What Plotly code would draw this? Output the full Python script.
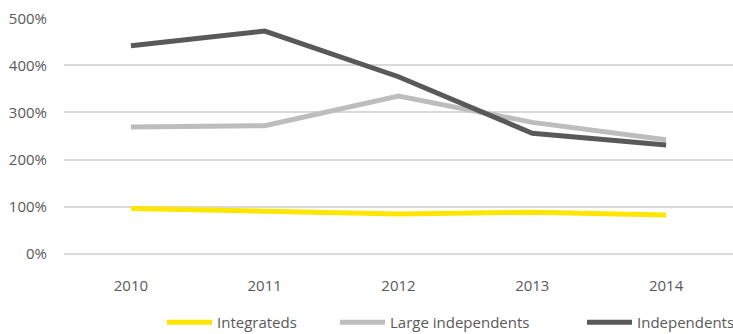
import plotly.graph_objects as go

years = ["2010", "2011", "2012", "2013", "2014"]
integrateds = [96, 91, 84, 88, 82]
large_independents = [269, 272, 335, 279, 242]
independents = [442, 473, 376, 256, 231]

y_ticks = [0, 100, 200, 300, 400, 500]
y_tick_labels = ["0%", "100%", "200%", "300%", "400%", "500%"]

FONT = "Open Sans, Arial, sans-serif"
TEXT = "#595959"

series = [
    ("Integrateds", integrateds, "#FFE600", "legend"),
    ("Large independents", large_independents, "#BDBDBD", "legend2"),
    ("Independents", independents, "#595959", "legend3"),
]

fig = go.Figure()
for name, vals, color, leg in series:
    fig.add_trace(go.Scatter(
        x=years, y=vals, name=name, mode="lines",
        line=dict(color=color, width=5),
        legend=leg,
    ))

legend_common = dict(
    orientation="h", yanchor="middle", y=-0.29, xanchor="left",
    font=dict(family=FONT, size=15, color=TEXT),
    bgcolor="rgba(0,0,0,0)", itemwidth=45,
)

fig.update_layout(
    width=733, height=334,
    margin=dict(l=64, r=0, t=18, b=80, autoexpand=False),
    paper_bgcolor="white", plot_bgcolor="white",
    showlegend=True,
    legend=dict(x=(162 - 64) / 669, **legend_common),
    legend2=dict(x=(335 - 64) / 669, **legend_common),
    legend3=dict(x=(582 - 64) / 669, **legend_common),
    xaxis=dict(
        type="category", range=[-0.5, 4.5],
        showgrid=False, showline=False, zeroline=False,
        ticks="outside", ticklen=18, tickcolor="rgba(0,0,0,0)",
        tickfont=dict(family=FONT, size=15, color=TEXT),
    ),
    yaxis=dict(
        range=[-0.8, 500.8], tickvals=y_ticks, ticktext=y_tick_labels,
        showgrid=True, gridcolor="#D9D9D9", gridwidth=2,
        zeroline=True, zerolinecolor="#D9D9D9", zerolinewidth=2,
        showline=False,
        ticks="outside", ticklen=13, tickcolor="rgba(0,0,0,0)",
        tickfont=dict(family=FONT, size=15, color=TEXT),
    ),
)

fig.write_html("out.html")
